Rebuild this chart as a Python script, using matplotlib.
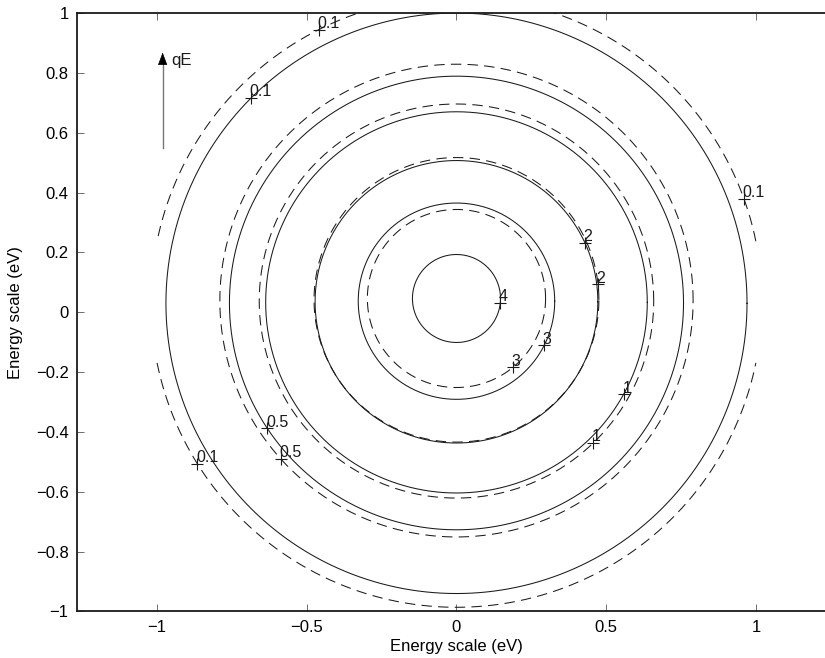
import numpy as np
import matplotlib
matplotlib.use('Agg')
import matplotlib.pyplot as plt
from matplotlib.ticker import FixedLocator, FuncFormatter

# contour levels, circle centres (y) and radii
solid_levels = [0.1, 0.5, 1, 2, 3, 4]
solid_yc = [0.030, 0.031, 0.033, 0.035, 0.037, 0.046]
solid_r = [0.970, 0.758, 0.637, 0.472, 0.328, 0.147]

dashed_levels = [0.1, 0.5, 1, 2, 3]
dashed_yc = [0.034, 0.039, 0.0375, 0.0415, 0.046]
dashed_r = [1.020, 0.790, 0.6585, 0.4755, 0.2975]

# angle (deg) of each contour label along its circle
solid_label_deg = [[135], [213.6], [-28.8], [24.7], [-26.6], [-5.8]]
dashed_label_deg = [[116.8, 19.8, 212], [222], [-46.1], [6.3], [-50.6]]

xticks = [-1, -0.5, 0, 0.5, 1]
yticks = [-1, -0.8, -0.6, -0.4, -0.2, 0, 0.2, 0.4, 0.6, 0.8, 1]
domain = 1.0   # data grid only spans |x| <= 1

plt.rcParams['font.family'] = ['Liberation Sans', 'DejaVu Sans']

fig = plt.figure(figsize=(8.25, 6.58), dpi=100)
ax = fig.add_axes([0.0933, 0.0707, 0.92, 0.9095])

t = np.linspace(0, 2 * np.pi, 1441)
ink = '#1a1a1a'


def draw_set(levels, yc, rr, angles, ls):
    for lev, c, r, degs in zip(levels, yc, rr, angles):
        x = r * np.cos(t)
        y = c + r * np.sin(t)
        x = np.where(np.abs(x) > domain, np.nan, x)
        ax.plot(x, y, color=ink, lw=0.75, linestyle=ls)
        for d in degs:
            a = np.deg2rad(d)
            px, py = r * np.cos(a), c + r * np.sin(a)
            ax.plot(px, py, marker='+', color=ink, ms=8, mew=0.8)
            ax.annotate('%g' % lev, (px, py), xytext=(-1, -1),
                        textcoords='offset points', ha='left', va='bottom',
                        fontsize=11.5, color=ink)


draw_set(solid_levels, solid_yc, solid_r, solid_label_deg, '-')
draw_set(dashed_levels, dashed_yc, dashed_r, dashed_label_deg, (0, (10, 6)))

# field direction arrow
ax.plot([-0.981, -0.981], [0.55, 0.84], color='#777777', lw=1.0)
ax.annotate('', xy=(-0.981, 0.868), xytext=(-0.981, 0.83),
            arrowprops=dict(arrowstyle='-|>,head_length=0.8,head_width=0.3',
                            color='black', lw=0.5, shrinkA=0, shrinkB=0))
ax.text(-0.953, 0.843, 'qE', fontsize=12, ha='left', va='center', color=ink)

ax.set_xlim(-1.267, 1.267)
ax.set_ylim(-1, 1)

fmt = FuncFormatter(lambda v, p: ('%g' % v).replace('-', '\u2212'))
ax.xaxis.set_major_locator(FixedLocator(xticks))
ax.yaxis.set_major_locator(FixedLocator(yticks))
ax.xaxis.set_major_formatter(fmt)
ax.yaxis.set_major_formatter(fmt)
ax.tick_params(direction='in', length=5, width=0.6, color='#555555',
               labelsize=12, top=True, right=True, pad=6)
for s in ax.spines.values():
    s.set_linewidth(1.3)
    s.set_color(ink)

ax.set_xlabel('Energy scale (eV)', fontsize=12, labelpad=3)
ax.set_ylabel('Energy scale (eV)', fontsize=12, labelpad=9)

fig.savefig('out.png', dpi=100)
